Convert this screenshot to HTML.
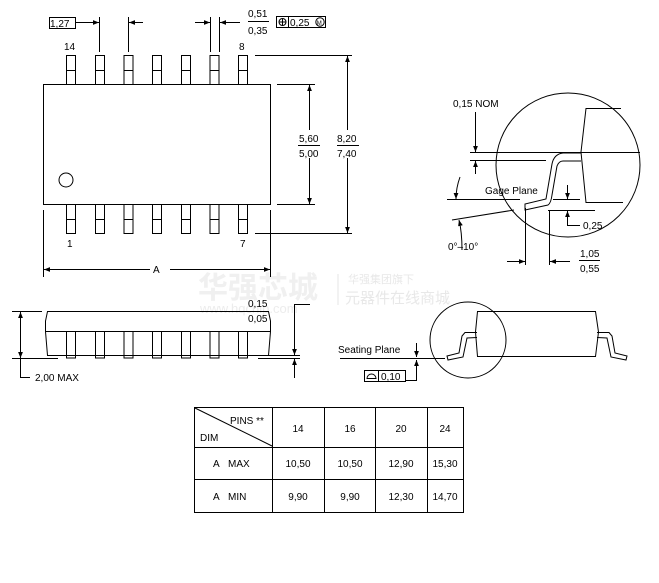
<!DOCTYPE html>
<html><head><meta charset="utf-8"><style>
html,body{margin:0;padding:0;background:#fff;width:659px;height:583px;overflow:hidden}
svg{display:block}
text{font-family:"Liberation Sans","Noto Sans CJK SC",sans-serif;font-size:10px;fill:#000}
.c{text-anchor:middle}
</style></head><body>
<svg width="659" height="583" viewBox="0 0 659 583" xmlns="http://www.w3.org/2000/svg">
<defs>
<marker id="a" viewBox="0 0 10 10" refX="10" refY="5" markerWidth="6" markerHeight="6" orient="auto-start-reverse"><path d="M0,1 L10,5 L0,9 Z" fill="#000"/></marker>
</defs>
<g>
<text x="198" y="298" style="font-size:30px;font-weight:bold;fill:#f0f0f0">华强芯城</text>
<text x="200" y="313" style="font-size:13px;fill:#ececec">www.hqchip.com</text>
<text x="348" y="283" style="font-size:11px;fill:#e8e8e8">华强集团旗下</text>
<text x="345" y="303" style="font-size:15px;fill:#e8e8e8">元器件在线商城</text>
</g>
<line x1="338" y1="274" x2="338" y2="305" stroke="#e6e6e6"/>
<g stroke="#000" fill="none" stroke-width="1">
<rect x="43.5" y="84.5" width="227" height="120" fill="#fff"/>
<circle cx="66" cy="180" r="7"/>
<g id="tp">
<rect x="66.5" y="55.5" width="9" height="29"/><line x1="66" y1="70.5" x2="75" y2="70.5"/>
<rect x="66.5" y="204.5" width="9" height="29"/><line x1="66" y1="219.5" x2="75" y2="219.5"/>
</g>
<use href="#tp" x="29"/><use href="#tp" x="57.5"/><use href="#tp" x="86"/><use href="#tp" x="115"/><use href="#tp" x="143.5"/><use href="#tp" x="172"/>
<line x1="99.5" y1="17" x2="99.5" y2="52"/><line x1="128.5" y1="17" x2="128.5" y2="52"/>
<line x1="210.5" y1="17" x2="210.5" y2="52"/><line x1="219.5" y1="17" x2="219.5" y2="52"/>
<line x1="75" y1="22.5" x2="99" y2="22.5" marker-end="url(#a)"/>
<line x1="143" y1="22.5" x2="129" y2="22.5" marker-end="url(#a)"/>
<line x1="195" y1="22.5" x2="210" y2="22.5" marker-end="url(#a)"/>
<line x1="240" y1="22.5" x2="220" y2="22.5" marker-end="url(#a)"/>
<rect x="49.5" y="17.5" width="26" height="11"/>
<line x1="248" y1="21.5" x2="269" y2="21.5"/>
<rect x="276.5" y="16.5" width="49" height="11"/><line x1="288.5" y1="16" x2="288.5" y2="28"/>
<circle cx="282.5" cy="22" r="3.5"/><line x1="279" y1="22" x2="286" y2="22"/><line x1="282.5" y1="18.5" x2="282.5" y2="25.5"/>
<circle cx="320" cy="22" r="4.2"/>
<line x1="277" y1="84.5" x2="315" y2="84.5"/><line x1="277" y1="204.5" x2="315" y2="204.5"/>
<line x1="309.5" y1="130" x2="309.5" y2="85" marker-end="url(#a)"/>
<line x1="309.5" y1="158" x2="309.5" y2="204" marker-end="url(#a)"/>
<line x1="298" y1="145.5" x2="320" y2="145.5"/>
<line x1="255" y1="55.5" x2="352" y2="55.5"/><line x1="255" y1="233.5" x2="352" y2="233.5"/>
<line x1="347.5" y1="130" x2="347.5" y2="56" marker-end="url(#a)"/>
<line x1="347.5" y1="158" x2="347.5" y2="233" marker-end="url(#a)"/>
<line x1="337" y1="145.5" x2="359" y2="145.5"/>
<line x1="43.5" y1="210" x2="43.5" y2="277"/><line x1="270.5" y1="210" x2="270.5" y2="277"/>
<line x1="150" y1="269.5" x2="44" y2="269.5" marker-end="url(#a)"/>
<line x1="170" y1="269.5" x2="270" y2="269.5" marker-end="url(#a)"/>
<path d="M47.5,311.5 L268.5,311.5 L270.5,321 L270.5,331.5 L268.5,355.5 L47.5,355.5 L45.5,331.5 L45.5,321 Z"/>
<line x1="45" y1="331.5" x2="271" y2="331.5"/>
<g id="sp"><rect x="66.5" y="331.5" width="9" height="26.5"/></g>
<use href="#sp" x="29"/><use href="#sp" x="57.5"/><use href="#sp" x="86"/><use href="#sp" x="115"/><use href="#sp" x="143.5"/><use href="#sp" x="172"/>
<line x1="12" y1="311.5" x2="42" y2="311.5"/><line x1="12" y1="358.5" x2="58" y2="358.5"/>
<line x1="20.5" y1="335" x2="20.5" y2="312" marker-end="url(#a)"/>
<line x1="20.5" y1="335" x2="20.5" y2="358" marker-end="url(#a)"/>
<polyline points="20.5,358 20.5,377.5 30,377.5"/>
<line x1="258" y1="355.5" x2="300" y2="355.5"/><line x1="258" y1="358.5" x2="300" y2="358.5"/>
<polyline points="310,304.5 294.5,304.5 294.5,355" marker-end="url(#a)"/>
<line x1="294.5" y1="378" x2="294.5" y2="359" marker-end="url(#a)"/>
<line x1="248" y1="311.5" x2="264" y2="311.5"/>
<circle cx="468" cy="340" r="38"/>
<path d="M477.5,311.5 L595.5,311.5 L598.5,332 L595.5,356.5 L477.5,356.5 L475.5,332 Z"/>
<path d="M477,332.5 L465,332.5 L462,336 L459,353 L447,356 L448,360 L463,357 L467,338 L477,337.5"/>
<path d="M597,332.5 L609,332.5 L612,336 L615,353 L627,356 L626,360 L611,357 L607,338 L597,337.5"/>
<line x1="340" y1="358.5" x2="445" y2="358.5"/>
<line x1="416.5" y1="343" x2="416.5" y2="357" marker-end="url(#a)"/>
<polyline points="405,380.5 416.5,380.5 416.5,360" marker-end="url(#a)"/>
<rect x="364.5" y="370.5" width="41" height="11"/><line x1="378.5" y1="370" x2="378.5" y2="382"/>
<path d="M367,378.5 L376,378.5 A4.5,4.5 0 0 0 367,378.5 Z"/>
<circle cx="568" cy="165" r="72"/>
<polyline points="621,108.5 586,108.5 581,152 586,202.5 623,202.5"/>
<line x1="470" y1="152.5" x2="640" y2="152.5"/>
<line x1="470" y1="160.5" x2="546" y2="160.5"/>
<path d="M581,153 L563,153 Q554,154 552,164 L546,199 L525,204 L525,210 L548,205 Q551,203 552,195 L557,166 Q559,161 563,161 L581,161"/>
<line x1="475.5" y1="112" x2="475.5" y2="152" marker-end="url(#a)"/>
<line x1="475.5" y1="174" x2="475.5" y2="161" marker-end="url(#a)"/>
<line x1="447" y1="199.5" x2="520" y2="199.5"/>
<path d="M460,177 Q456,188 456,199" marker-end="url(#a)"/>
<line x1="452" y1="220" x2="514" y2="210"/>
<path d="M462,250 Q462,232 459,220" marker-end="url(#a)"/>
<line x1="553" y1="199.5" x2="580" y2="199.5"/>
<line x1="548" y1="210.5" x2="595" y2="210.5"/>
<line x1="567.5" y1="185" x2="567.5" y2="199" marker-end="url(#a)"/>
<polyline points="580,225.5 567.5,225.5 567.5,211" marker-end="url(#a)"/>
<line x1="525.5" y1="208" x2="525.5" y2="265"/>
<line x1="549.5" y1="210" x2="549.5" y2="265"/>
<line x1="507" y1="261.5" x2="525" y2="261.5" marker-end="url(#a)"/>
<line x1="570" y1="261.5" x2="550" y2="261.5" marker-end="url(#a)"/>
<line x1="579" y1="260.5" x2="600" y2="260.5"/>
<rect x="194.5" y="407.5" width="269" height="105"/>
<line x1="272.5" y1="407" x2="272.5" y2="513"/>
<line x1="324.5" y1="407" x2="324.5" y2="513"/>
<line x1="375.5" y1="407" x2="375.5" y2="513"/>
<line x1="427.5" y1="407" x2="427.5" y2="513"/>
<line x1="194" y1="447.5" x2="464" y2="447.5"/>
<line x1="194" y1="479.5" x2="464" y2="479.5"/>
<line x1="195" y1="408" x2="272" y2="446"/>
</g>
<g>
<text x="50" y="27">1,27</text>
<text x="248" y="17">0,51</text>
<text x="248" y="34">0,35</text>
<text x="290" y="26">0,25</text>
<text x="316.8" y="25" style="font-size:6px">M</text>
<text x="64" y="50">14</text>
<text x="239" y="50">8</text>
<text x="67" y="247">1</text>
<text x="240" y="247">7</text>
<text x="299" y="142">5,60</text>
<text x="299" y="157">5,00</text>
<text x="337" y="142">8,20</text>
<text x="337" y="157">7,40</text>
<text x="153" y="273">A</text>
<text x="248" y="307">0,15</text>
<text x="248" y="322">0,05</text>
<text x="35" y="381">2,00 MAX</text>
<text x="338" y="353">Seating Plane</text>
<text x="381" y="380">0,10</text>
<text x="453" y="107">0,15 NOM</text>
<text x="485" y="194">Gage Plane</text>
<text x="583" y="229">0,25</text>
<text x="448" y="250">0°–10°</text>
<text x="580" y="257">1,05</text>
<text x="580" y="272">0,55</text>
<text x="230" y="424">PINS **</text>
<text x="200" y="441">DIM</text>
<text class="c" x="298" y="432">14</text>
<text class="c" x="350" y="432">16</text>
<text class="c" x="401" y="432">20</text>
<text class="c" x="445" y="432">24</text>
<text x="213" y="467">A&#160;&#160;&#160;MAX</text>
<text class="c" x="298" y="467">10,50</text>
<text class="c" x="350" y="467">10,50</text>
<text class="c" x="401" y="467">12,90</text>
<text class="c" x="445" y="467">15,30</text>
<text x="213" y="500">A&#160;&#160;&#160;MIN</text>
<text class="c" x="298" y="500">9,90</text>
<text class="c" x="350" y="500">9,90</text>
<text class="c" x="401" y="500">12,30</text>
<text class="c" x="445" y="500">14,70</text>
</g>
</svg>
</body></html>
